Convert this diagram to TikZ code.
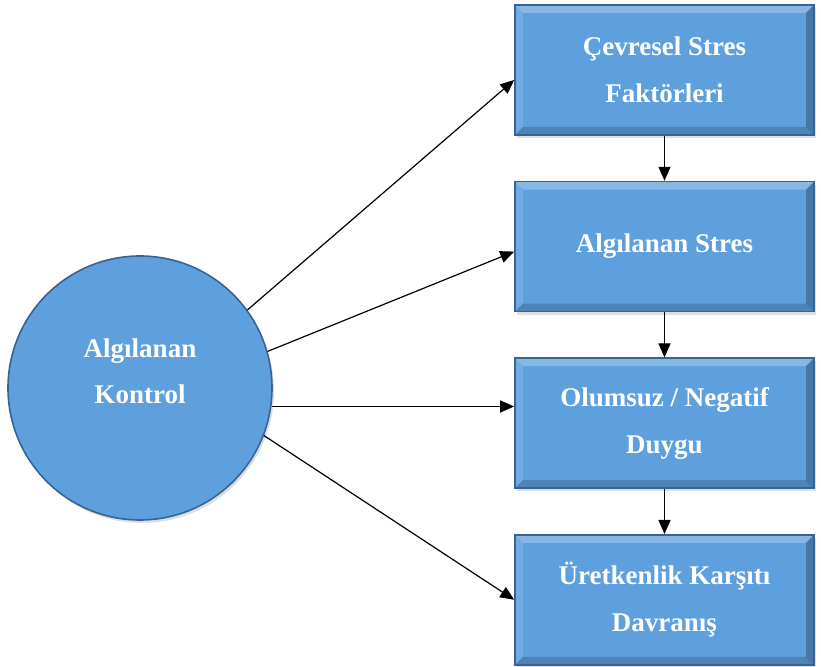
\documentclass[tikz,border=0pt]{standalone}
\usepackage{fontspec}
\setmainfont{Liberation Serif}
\usetikzlibrary{arrows.meta, positioning, shadows}
\definecolor{boxblue}{RGB}{94,160,222}
\definecolor{edgeblue}{RGB}{55,100,148}

\begin{document}
\begin{tikzpicture}[
    x=0.5pt, y=-0.5pt,
    node distance=22.5pt,
    bevel/.style={path picture={
        \coordinate (nw) at (path picture bounding box.north west);
        \coordinate (ne) at (path picture bounding box.north east);
        \coordinate (sw) at (path picture bounding box.south west);
        \coordinate (se) at (path picture bounding box.south east);
        \fill[white, opacity=0.25] (nw) -- (ne) -- ([shift={(-4pt,-4pt)}]ne) -- ([shift={(4pt,-4pt)}]nw) -- cycle;
        \fill[white, opacity=0.12] (nw) -- (sw) -- ([shift={(4pt,4pt)}]sw) -- ([shift={(4pt,-4pt)}]nw) -- cycle;
        \fill[black, opacity=0.18] (sw) -- (se) -- ([shift={(-4pt,4pt)}]se) -- ([shift={(4pt,4pt)}]sw) -- cycle;
        \fill[black, opacity=0.25] (ne) -- (se) -- ([shift={(-4pt,4pt)}]se) -- ([shift={(-4pt,-4pt)}]ne) -- cycle;
    }},
    factor/.style={rectangle, draw=edgeblue, fill=boxblue, thick, bevel, drop shadow={opacity=0.25, shadow xshift=1pt, shadow yshift=-1.5pt}, minimum width=149.5pt, minimum height=65pt, align=center, text=white, font=\bfseries\fontsize{13.5}{23.5}\selectfont},
    control/.style={circle, draw=edgeblue, fill=boxblue, thick, drop shadow={opacity=0.25, shadow xshift=1pt, shadow yshift=-1.5pt}, minimum size=132pt, align=center, text=white, font=\bfseries\fontsize{13.5}{23}\selectfont},
    arrow/.style={-{Triangle[length=7pt, width=6pt]}, semithick}
]
\useasboundingbox (0,0) rectangle (821,667);

% Factors
\node[factor] (cevre) at (664.5,70) {Çevresel Stres\\Faktörleri};
\node[factor, below=of cevre] (stres) {Algılanan Stres};
\node[factor, below=of stres] (duygu) {Olumsuz / Negatif\\Duygu};
\node[factor, below=of duygu] (davranis) {Üretkenlik Karşıtı\\Davranış};

% Perceived control
\node[control] (kontrol) at (140,388) {Algılanan\\Kontrol\\[-6pt]};

% Arrows
\draw[arrow] (kontrol.36) -- ([yshift=-5pt]cevre.west);
\draw[arrow] (kontrol.16) -- ([yshift=-2.5pt]stres.west);
\draw[arrow] (kontrol.-8) -- (kontrol.-8 -| duygu.west);
\draw[arrow] (kontrol.-21) -- (davranis.west);
\draw[arrow] (cevre) -- (stres);
\draw[arrow] (stres) -- (duygu);
\draw[arrow] (duygu) -- (davranis);

\end{tikzpicture}
\end{document}
